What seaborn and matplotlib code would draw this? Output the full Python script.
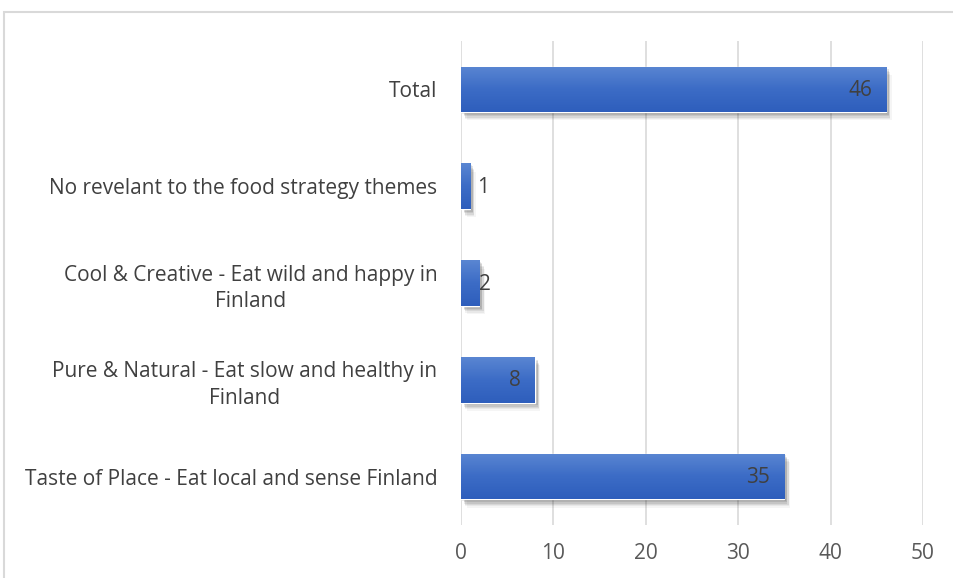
import numpy as np
import pandas as pd
import matplotlib
matplotlib.use("Agg")
import matplotlib.pyplot as plt
import matplotlib.patheffects as pe
from matplotlib.patches import Rectangle
import seaborn as sns

categories = [
    "Total",
    "No revelant to the food strategy themes",
    "Cool & Creative - Eat wild and happy in\nFinland",
    "Pure & Natural - Eat slow and healthy in\nFinland",
    "Taste of Place - Eat local and sense Finland",
]
counts = [46, 1, 2, 8, 35]
x_ticks = [0, 10, 20, 30, 40, 50]

sns.set_theme(style="white")
plt.rcParams["font.family"] = ["Open Sans", "DejaVu Sans"]

df = pd.DataFrame({"theme": categories, "count": counts})

fig = plt.figure(figsize=(9.54, 5.78), dpi=100)
ax = fig.add_axes([461 / 954, 1 - 525 / 578, (923 - 461) / 954, (525 - 41) / 578])

sns.barplot(data=df, y="theme", x="count", orient="h", color="#4472C4",
            width=0.47, ax=ax, zorder=3)

# gradient fill and soft drop shadow on every bar
grad = np.linspace(0, 1, 256).reshape(-1, 1)
cmap = matplotlib.colors.LinearSegmentedColormap.from_list(
    "bar", ["#5A86D2", "#3C6CC6", "#2E5EBC"])
shadow = [pe.SimplePatchShadow(offset=o, shadow_rgbFace="#000000", alpha=a)
          for o, a in [((1, -1), 0.10), ((2, -2), 0.10), ((2, -3), 0.08),
                       ((3, -4), 0.07), ((3, -5), 0.05), ((4, -6), 0.04)]]
for bar in ax.patches:
    bar.set_path_effects(shadow + [pe.Normal()])
    x0, y0 = bar.get_x(), bar.get_y()
    w, h = bar.get_width(), bar.get_height()
    im = ax.imshow(grad, cmap=cmap, aspect="auto", extent=(x0, x0 + w, y0 + h, y0),
                   zorder=4, interpolation="bicubic")
    im.set_clip_path(bar)

ax.set_xlim(0, 50)
ax.set_ylim(len(categories) - 0.5, -0.5)
ax.set_xticks(x_ticks)
ax.set_xticklabels([str(t) for t in x_ticks])
ax.grid(axis="x", color="#d9d9d9", linewidth=1.2, zorder=0)
ax.grid(axis="y", visible=False)
for s in ax.spines.values():
    s.set_visible(False)
ax.set_xlabel("")
ax.set_ylabel("")
ax.tick_params(axis="x", length=0, pad=13, labelsize=15, labelcolor="#595959")
ax.tick_params(axis="y", length=0, pad=17, labelsize=15, labelcolor="#404040")
for lbl in ax.get_yticklabels():
    lbl.set_multialignment("center")
    lbl.set_linespacing(1.35)

# value labels: inside the bar end, or just past short bars
for i, v in enumerate(counts):
    if v >= 5:
        ax.annotate(str(v), (v, i), xytext=(-14, -1), textcoords="offset pixels",
                    ha="right", va="center", fontsize=15, color="#404040", zorder=6)
    else:
        ax.annotate(str(v), (max(v, 1.7), i), xytext=(0, -1), textcoords="offset pixels",
                    ha="left", va="center", fontsize=15, color="#404040", zorder=6)

# chart frame
fig.add_artist(Rectangle((4 / 954, -0.05), 1.1, 1 - 12 / 578 + 0.05,
                         transform=fig.transFigure, fill=False,
                         edgecolor="#d9d9d9", linewidth=1.5))

fig.savefig("out.png", dpi=100)
